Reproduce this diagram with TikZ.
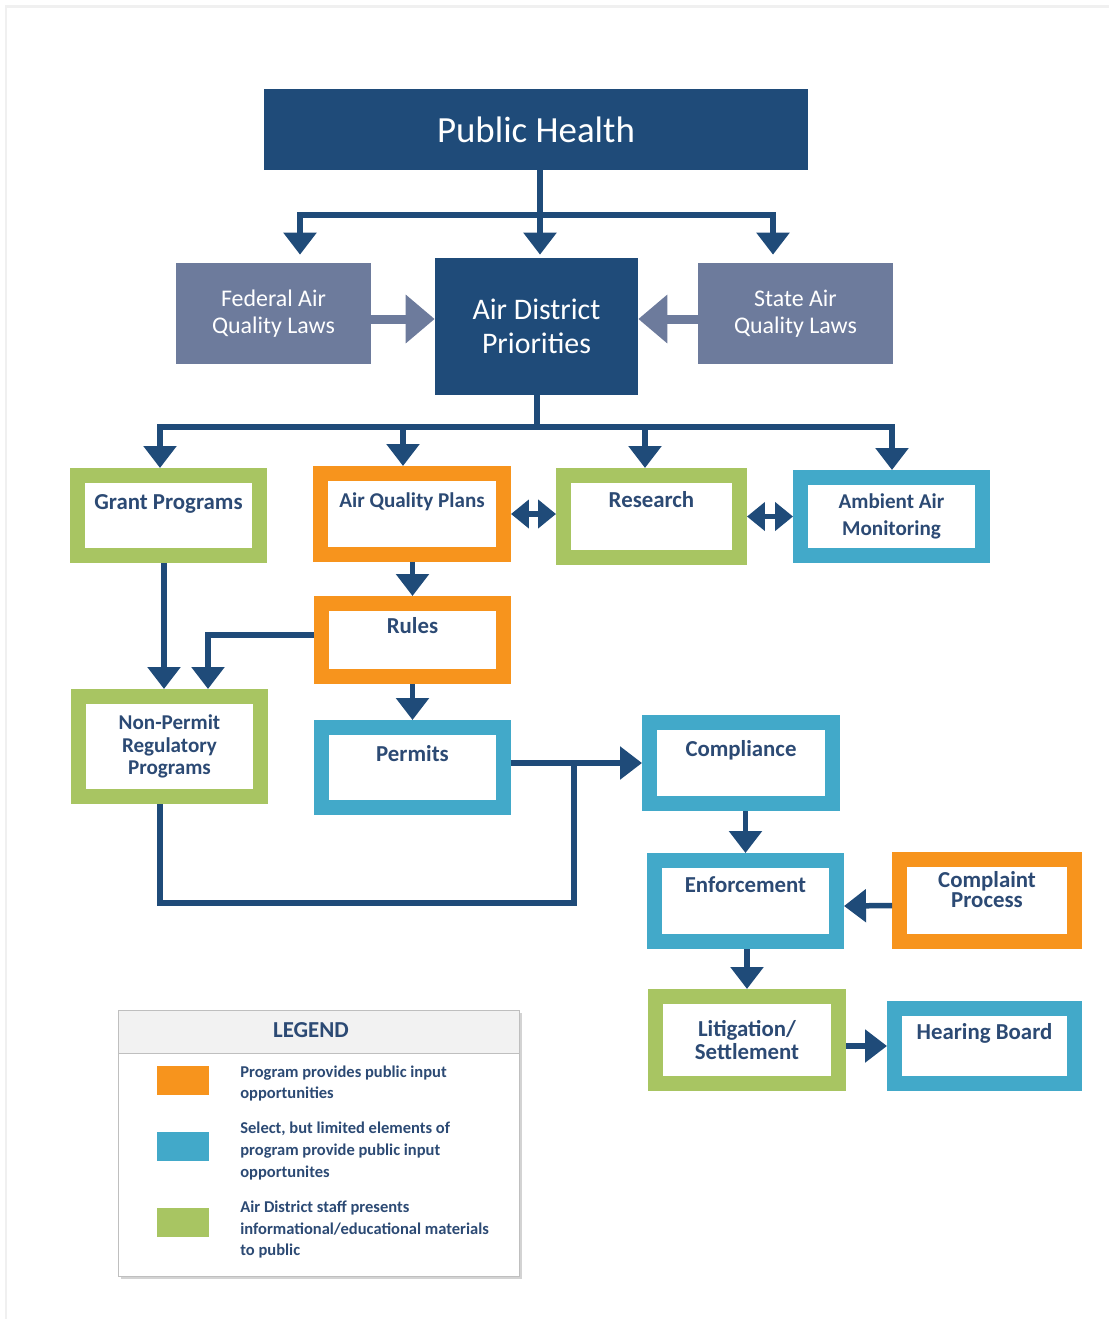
\documentclass[tikz,border=0pt]{standalone}
\usepackage{fontspec}
\setmainfont{Carlito}
\usetikzlibrary{arrows.meta,shadows}

\definecolor{navy}{HTML}{1F4B79}
\definecolor{lawgray}{HTML}{6D7B9C}
\definecolor{pgreen}{HTML}{A8C562}
\definecolor{porange}{HTML}{F7941D}
\definecolor{pblue}{HTML}{42A9C9}
\definecolor{txtnavy}{HTML}{2C4A74}
\definecolor{leggray}{HTML}{BFBFBF}
\definecolor{legfill}{HTML}{F2F2F2}

\tikzstyle{head} = [fill=navy,text=white,inner sep=0pt,align=center]
\tikzstyle{law} = [fill=lawgray,text=white,inner sep=0pt,align=center,minimum width=3.9cm,minimum height=2.02cm,font=\fontsize{13.6}{15.3}\selectfont]
\tikzstyle{prog} = [draw,fill=white,line width=0.3cm,text=txtnavy,align=center,minimum width=3.64cm,minimum height=1.6cm,font=\bfseries\fontsize{13}{13}\selectfont]
\tikzstyle{uptext} = [text height=0.3cm,text depth=0.56cm]
\tikzstyle{conn} = [draw=navy,line width=0.11cm]
\tikzstyle{arr} = [conn,-{Triangle[width=0.64cm,length=0.44cm]}]
\tikzstyle{twoway} = [conn,{Triangle[width=0.56cm,length=0.36cm]}-{Triangle[width=0.56cm,length=0.36cm]}]
\tikzstyle{fatarr} = [draw=lawgray,line width=0.18cm,-{Triangle[width=0.94cm,length=0.58cm]}]
\tikzstyle{swatch} = [minimum width=1.04cm,minimum height=0.58cm,inner sep=0pt]
\tikzstyle{legtext} = [anchor=west,inner sep=0pt,align=left,text=txtnavy,font=\bfseries\fontsize{9.4}{12.3}\selectfont]

\begin{document}
\begin{tikzpicture}[x=0.02cm,y=-0.02cm]
	\useasboundingbox (0,0) rectangle (1109,1319);
	\draw[gray!12,line width=0.06cm] (6,1319) -- (6,6) -- (1109,6);

	\node[head,minimum width=10.88cm,minimum height=1.62cm,font=\fontsize{21}{25}\selectfont] (ph) at (536,129.5) {Public Health};
	\node[law] (fed) at (273.5,313.5) {Federal Air\\Quality Laws};
	\node[head,minimum width=4.06cm,minimum height=2.74cm,font=\fontsize{17}{19.3}\selectfont] (adp) at (536.5,326.5) {Air District\\Priorities};
	\node[law] (state) at (795.5,313.5) {State Air\\Quality Laws};

	\node[prog,uptext,draw=pgreen] (grant) at (168.5,515.5) {Grant Programs};
	\node[prog,uptext,draw=porange,minimum width=3.66cm,minimum height=1.62cm,font=\bfseries\fontsize{12}{12}\selectfont] (aqp) at (412,514) {Air Quality Plans};
	\node[prog,uptext,draw=pgreen,minimum width=3.52cm,minimum height=1.64cm,text depth=0.66cm] (res) at (651.5,516.5) {Research};
	\node[prog,draw=pblue,minimum height=1.56cm,font=\bfseries\fontsize{12}{15.3}\selectfont] (amb) at (891.5,516.5) {Ambient Air\\Monitoring};
	\node[prog,uptext,draw=porange,minimum height=1.46cm] (rules) at (412.5,640) {Rules};
	\node[prog,uptext,draw=pblue] (perm) at (412.5,767.5) {Permits};
	\node[prog,draw=pgreen,minimum height=2cm,font=\bfseries\fontsize{12}{13}\selectfont] (np) at (169.5,746.5) {Non-Permit\\Regulatory\\Programs};
	\node[prog,uptext,draw=pblue,minimum width=3.66cm,minimum height=1.62cm] (comp) at (741,763) {Compliance};
	\node[prog,uptext,draw=pblue,minimum height=1.62cm,text depth=0.66cm] (enf) at (745.5,901) {Enforcement};
	\node[prog,draw=porange,minimum width=3.5cm,minimum height=1.64cm,text depth=0.45cm,font=\bfseries\fontsize{13}{11.6}\selectfont] (cmpl) at (987,900.5) {Complaint\\Process};
	\node[prog,draw=pgreen,minimum width=3.66cm,minimum height=1.74cm] (lit) at (747,1040) {Litigation/\\Settlement};
	\node[prog,uptext,draw=pblue,minimum width=3.6cm,minimum height=1.5cm] (hb) at (984.5,1046) {Hearing Board};

	\coordinate (t0) at (540,215);
	\coordinate (t1) at (300,215);
	\coordinate (t2) at (773,215);
	\coordinate (m0) at (537,427);
	\coordinate (m1) at (160,427);
	\coordinate (m2) at (403,427);
	\coordinate (m3) at (645,427);
	\coordinate (m4) at (892,427);
	\coordinate (fy) at (0,319);
	\coordinate (j1) at (574,763);
	\coordinate (j2) at (574,903);

	\draw[arr,shorten >=0.06cm] (ph.south -| t0) -- (t0 |- adp.north);
	\draw[arr,shorten >=0.16cm] (t0) -| (t1 |- fed.north);
	\draw[arr,shorten >=0.16cm] (t0) -| (t2 |- state.north);
	\draw[fatarr] (fed.east |- fy) -- (adp.west |- fy);
	\draw[fatarr] (state.west |- fy) -- (adp.east |- fy);

	\draw[conn] (adp.south -| m0) -- (m0);
	\draw[arr] (m0) -| (m1 |- grant.north);
	\draw[arr] (m0) -| (m4 |- amb.north);
	\draw[arr] (m2) -- (m2 |- aqp.north);
	\draw[arr] (m3) -- (m3 |- res.north);
	\draw[twoway] (aqp.east) -- (res.west |- aqp.east);
	\draw[twoway] (res.east) -- (amb.west |- res.east);

	\draw[arr] (rules.north |- aqp.south) -- (rules.north);
	\draw[arr] (rules.south) -- (perm.north);
	\draw[arr] ([xshift=-0.11cm]np.north |- grant.south) -- ([xshift=-0.11cm]np.north);
	\draw[arr] ([yshift=0.1cm]rules.west) -| ([xshift=0.77cm]np.north);
	\draw[conn] ([xshift=-0.19cm]np.south) |- (j2) -- (j1);
	\draw[arr] (perm.east |- comp.west) -- (comp.west);
	\draw[arr] (enf.north |- comp.south) -- (enf.north);
	\draw[arr] ([yshift=-0.1cm]cmpl.west) -- ([yshift=-0.1cm]enf.east);
	\draw[arr] (lit.north |- enf.south) -- (lit.north);
	\draw[arr] (lit.east |- hb.west) -- (hb.west);

	\node[draw=leggray,fill=white,minimum width=8.02cm,minimum height=5.32cm,inner sep=0pt,drop shadow={shadow xshift=1.5pt,shadow yshift=-1.5pt,opacity=.35}] (leg) at (318.5,1143) {};
	\node[draw=leggray,fill=legfill,anchor=north,minimum width=8.02cm,minimum height=0.86cm,inner sep=0pt] (leghd) at (leg.north) {};
	\node[text=txtnavy,font=\bfseries\fontsize{13}{13}\selectfont] (legt) at (311,1030) {LEGEND};
	\node[swatch,fill=porange] (s1) at (183,1080.5) {};
	\node[swatch,fill=pblue] (s2) at (183,1146) {};
	\node[swatch,fill=pgreen] (s3) at (183,1222.5) {};
	\node[legtext] (l1) at (240,1083.5) {Program provides public input\\opportunities};
	\node[legtext] (l2) at (240,1151) {Select, but limited elements of\\program provide public input\\opportunites};
	\node[legtext] (l3) at (240,1229.5) {Air District staff presents\\informational/educational materials\\to public};
\end{tikzpicture}
\end{document}
